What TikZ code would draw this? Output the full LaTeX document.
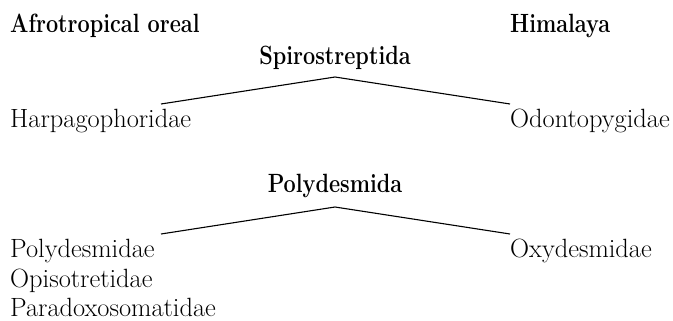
\documentclass[tikz,border=0pt]{standalone}
\usepackage{fontspec}
\newcommand{\semibold}[1]{\scalebox{0.82}[1]{\bfseries #1}}
\begin{document}
\begin{tikzpicture}[x=1pt,y=-1pt,
  label/.style={anchor=base west,inner sep=0pt,font=\fontsize{26.4}{30}\selectfont},
  heading/.style={label},
  branch/.style={line width=1.1pt,line join=miter}]
\useasboundingbox (0,0) rectangle (673,321);

% region headings
\node[heading] (afro) at (10,33) {\semibold{Afrotropical oreal}};
\node[heading] (hima) at (510,33) {\semibold{Himalaya}};

% Spirostreptida
\node[heading,anchor=base] (spiro) at (335,65) {\semibold{Spirostreptida}};
\node[label] (harp) at (10,128) {Harpagophoridae};
\node[label] (odon) at (510,128) {Odontopygidae};
\coordinate (spiroTop) at (335,77);
\coordinate (spiroL) at (161,104);
\coordinate (spiroR) at (510,104);
\draw[branch] (spiroL) -- (spiroTop) -- (spiroR);

% Polydesmida
\node[heading,anchor=base] (poly) at (335,192) {\semibold{Polydesmida}};
\node[label] (polyd) at (10,257) {Polydesmidae};
\node[label] (opis) at (10,287) {Opisotretidae};
\node[label] (para) at (10,316) {Paradoxosomatidae};
\node[label] (oxy) at (510,257) {Oxydesmidae};
\coordinate (polyTop) at (335,207);
\coordinate (polyL) at (161,234);
\coordinate (polyR) at (510,234);
\draw[branch] (polyL) -- (polyTop) -- (polyR);
\end{tikzpicture}
\end{document}
